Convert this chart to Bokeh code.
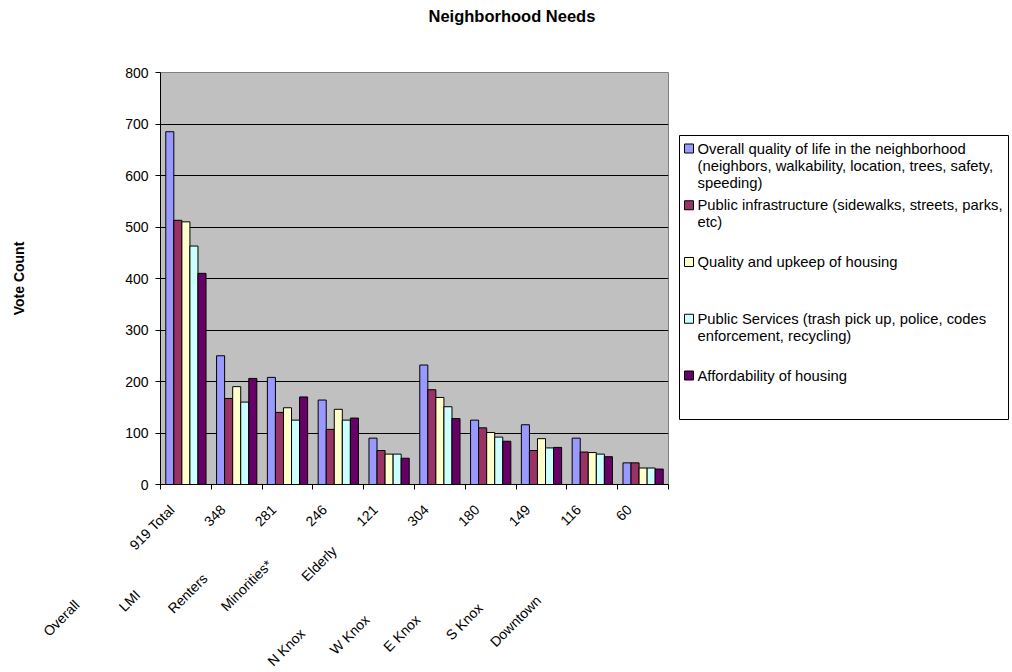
import math
from bokeh.plotting import figure
from bokeh.layouts import row
from bokeh.models import Range1d, FixedTicker, ColumnDataSource
from bokeh.core.properties import value
from bokeh.embed import file_html
from bokeh.resources import INLINE

# ---------------- data ----------------
groups = ["Overall", "LMI", "Renters", "Minorities*", "Elderly",
          "N Knox", "W Knox", "E Knox", "S Knox", "Downtown"]
group_counts = ["919 Total", "348", "281", "246", "121",
                "304", "180", "149", "116", "60"]

series_labels = [
    "Overall quality of life in the neighborhood\n(neighbors, walkability, location, trees, safety,\nspeeding)",
    "Public infrastructure (sidewalks, streets, parks,\netc)",
    "Quality and upkeep of housing",
    "Public Services (trash pick up, police, codes\nenforcement, recycling)",
    "Affordability of housing",
]
quality_of_life = [685, 250, 208, 164, 90, 232, 125, 116, 90, 42]
public_infrastructure = [513, 167, 140, 107, 66, 184, 110, 66, 63, 42]
housing_upkeep = [510, 190, 149, 146, 59, 169, 101, 89, 62, 32]
public_services = [463, 160, 125, 125, 59, 151, 92, 71, 59, 32]
affordability = [410, 206, 170, 129, 51, 128, 84, 72, 54, 30]

y_ticks = [0, 100, 200, 300, 400, 500, 600, 700, 800]

# ---------------- style ----------------
FONT = "Liberation Sans"
colors = ["#9999FF", "#993366", "#FFFFCC", "#CCFFFF", "#660066"]
bar_w = 0.1585
NBSP = "\u00a0"
# spacing (in non-breaking spaces) between group name and count in each label
name_pad = [20, 25, 19, 14, 9, 39, 34, 34, 30, 29]
tail_pad = 5

series = [quality_of_life, public_infrastructure, housing_upkeep,
          public_services, affordability]
n = len(groups)

TOP, BOTTOM, FRAME_H = 72, 188, 412

# ---------------- main chart ----------------
p = figure(frame_width=508, frame_height=FRAME_H,
           x_range=Range1d(0, n), y_range=Range1d(y_ticks[0], y_ticks[-1]),
           output_backend="svg", toolbar_location=None,
           min_border_left=160, min_border_right=8,
           min_border_top=TOP, min_border_bottom=BOTTOM,
           background_fill_color="#C0C0C0", border_fill_color="white",
           outline_line_color="#808080", outline_line_width=1)

for k, (vals, col) in enumerate(zip(series, colors)):
    src = ColumnDataSource(dict(
        x=[i + 0.5 + (k - 2) * bar_w for i in range(n)],
        top=vals))
    p.vbar(x="x", top="top", bottom=0, width=bar_w, source=src,
           fill_color=col, line_color="black", line_width=1)

p.xgrid.visible = False
p.ygrid.ticker = FixedTicker(ticks=y_ticks[1:-1])
p.ygrid.grid_line_color = "black"
p.ygrid.grid_line_width = 1

p.yaxis.ticker = FixedTicker(ticks=y_ticks)
p.yaxis.axis_line_color = "black"
p.yaxis.major_tick_line_color = "black"
p.yaxis.major_tick_out = 5
p.yaxis.major_tick_in = 0
p.yaxis.minor_tick_line_color = None
p.yaxis.major_label_text_font = FONT
p.yaxis.major_label_text_font_size = "14px"
p.yaxis.major_label_text_color = "black"
p.yaxis.major_label_standoff = 7
p.yaxis.axis_label = "Vote Count"
p.yaxis.axis_label_text_font = FONT
p.yaxis.axis_label_text_font_size = "14px"
p.yaxis.axis_label_text_font_style = "bold"
p.yaxis.axis_label_text_color = "black"
p.yaxis.axis_label_standoff = 95

centers = [i + 0.5 for i in range(n)]
p.xaxis.ticker = FixedTicker(ticks=centers, minor_ticks=list(range(n + 1)))
p.xaxis.major_label_overrides = {
    c: g + NBSP * pad + cnt + NBSP * tail_pad
    for c, g, cnt, pad in zip(centers, groups, group_counts, name_pad)}
p.xaxis.major_label_orientation = math.pi / 4
p.xaxis.major_label_text_font = FONT
p.xaxis.major_label_text_font_size = "14px"
p.xaxis.major_label_text_color = "black"
p.xaxis.major_label_standoff = 4
p.xaxis.axis_line_color = "black"
p.xaxis.major_tick_line_color = None
p.xaxis.major_tick_out = 0
p.xaxis.major_tick_in = 0
p.xaxis.minor_tick_line_color = "black"
p.xaxis.minor_tick_out = 5
p.xaxis.minor_tick_in = 0

# title (extra blank lines lift it to the top of the page)
p.title.text = "Neighborhood Needs\n" + NBSP + "\n" + NBSP
p.title.text_font = FONT
p.title.text_font_size = "16.5px"
p.title.text_font_style = "bold"
p.title.text_color = "black"
p.title.text_line_height = 1.24
p.title.align = "left"
p.title.vertical_align = "top"
p.title.offset = 268
p.title.standoff = 2

# ---------------- legend panel (y in page pixels) ----------------
LW = 336
leg = figure(frame_width=LW, frame_height=FRAME_H,
             x_range=Range1d(0, LW), y_range=Range1d(TOP + FRAME_H, TOP),
             min_border_left=0, min_border_right=0,
             min_border_top=TOP, min_border_bottom=BOTTOM,
             x_axis_type=None, y_axis_type=None,
             toolbar_location=None, output_backend="svg",
             outline_line_color=None, background_fill_color="white",
             border_fill_color="white")
leg.xgrid.visible = False
leg.ygrid.visible = False
box_l, box_r, box_t, box_b = 3, 332, 135, 419
first_y, pitch, line_step = 148, 56.75, 17
sw_x, sw = 12.5, 9
txt_x = 21

leg.quad(left=[box_l], right=[box_r], top=[box_t], bottom=[box_b],
         fill_color="white", line_color="black", line_width=1)
entry_y = [first_y + i * pitch for i in range(len(series_labels))]
leg.rect(x=[sw_x] * len(entry_y), y=entry_y, width=sw, height=sw,
         fill_color=colors, line_color="black", line_width=1)
tx, ty, tt = [], [], []
for yy, lbl in zip(entry_y, series_labels):
    for j, line in enumerate(lbl.split("\n")):
        tx.append(txt_x)
        ty.append(yy + j * line_step)
        tt.append(line)
leg.text(x=tx, y=ty, text=tt, text_baseline="middle", text_align="left",
         text_font=value(FONT), text_font_size="14.8px", text_color="black")

layout = row(p, leg)
open("out.html", "w").write(file_html(layout, INLINE))
